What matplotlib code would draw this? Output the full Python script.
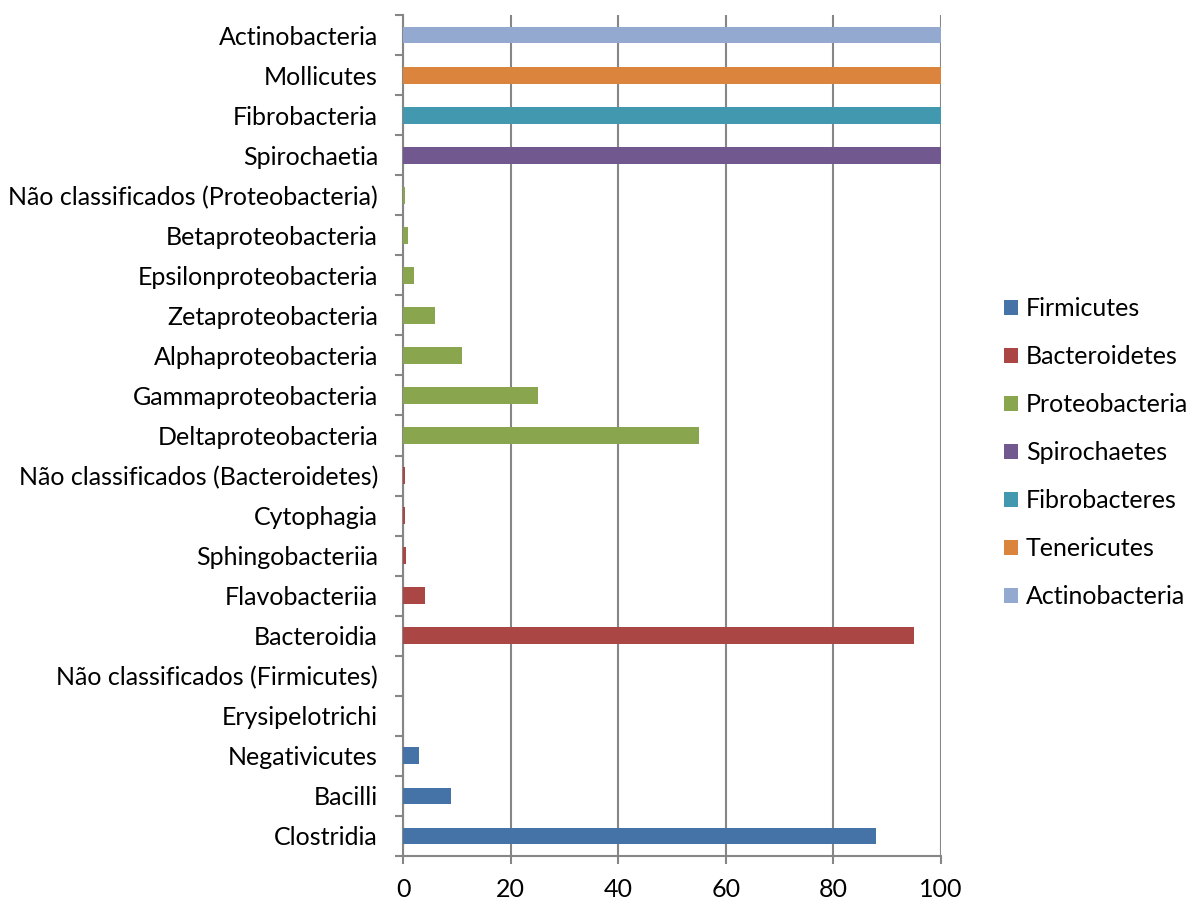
import numpy as np
import matplotlib.pyplot as plt
from matplotlib.patches import Patch

plt.rcParams['font.family'] = ['Lato', 'DejaVu Sans']

# categorias (de baixo para cima) e valores (%)
categories = ["Clostridia", "Bacilli", "Negativicutes", "Erysipelotrichi",
              "Não classificados (Firmicutes)", "Bacteroidia", "Flavobacteriia",
              "Sphingobacteriia", "Cytophagia", "Não classificados (Bacteroidetes)",
              "Deltaproteobacteria", "Gammaproteobacteria", "Alphaproteobacteria",
              "Zetaproteobacteria", "Epsilonproteobacteria", "Betaproteobacteria",
              "Não classificados (Proteobacteria)", "Spirochaetia", "Fibrobacteria",
              "Mollicutes", "Actinobacteria"]
values = [88, 9, 3, 0, 0, 95, 4, 0.6, 0.3, 0.3, 55, 25, 11, 6, 2, 1, 0.3,
          100, 100, 100, 100]
phylum = ["Firmicutes"] * 5 + ["Bacteroidetes"] * 5 + ["Proteobacteria"] * 7 + \
         ["Spirochaetes", "Fibrobacteres", "Tenericutes", "Actinobacteria"]

phyla = ["Firmicutes", "Bacteroidetes", "Proteobacteria", "Spirochaetes",
         "Fibrobacteres", "Tenericutes", "Actinobacteria"]
colors = {"Firmicutes": "#4572A7", "Bacteroidetes": "#AA4643",
          "Proteobacteria": "#89A54E", "Spirochaetes": "#71588F",
          "Fibrobacteres": "#4198AF", "Tenericutes": "#DB843D",
          "Actinobacteria": "#93A9CF"}

FS = 18

fig = plt.figure(figsize=(11.98, 9), dpi=100)
ax = fig.add_axes([0.3364, 0.0489, 0.4491, 0.9344])

y = np.arange(len(categories))
ax.barh(y, values, height=0.42, color=[colors[p] for p in phylum], zorder=3)

ax.set_xlim(0, 100)
ax.set_ylim(-0.5, len(categories) - 0.5)
ax.set_xticks([0, 20, 40, 60, 80, 100])
ax.set_yticks(y)
ax.set_yticklabels(categories)
ax.set_yticks(np.arange(-0.5, len(categories)), minor=True)
ax.tick_params(axis='y', which='major', length=0, labelsize=FS, pad=18)
ax.tick_params(axis='y', which='minor', length=6, width=1.5, color='#868686')
ax.tick_params(axis='x', length=6, width=1.5, color='#868686', labelsize=FS, pad=10)
ax.grid(axis='x', color='#868686', linewidth=1.5, zorder=0)
for s in ['top', 'right']:
    ax.spines[s].set_visible(False)
for s in ['left', 'bottom']:
    ax.spines[s].set_color('#868686')
    ax.spines[s].set_linewidth(1.5)

handles = [Patch(facecolor=colors[p], label=p) for p in phyla]
fig.legend(handles=handles, loc='center left', bbox_to_anchor=(0.838, 0.497),
           frameon=False, fontsize=FS, handlelength=0.55, handleheight=0.55,
           handletextpad=0.33, labelspacing=1.0, borderpad=0, borderaxespad=0)

fig.savefig("out.png", dpi=100, facecolor="white")
